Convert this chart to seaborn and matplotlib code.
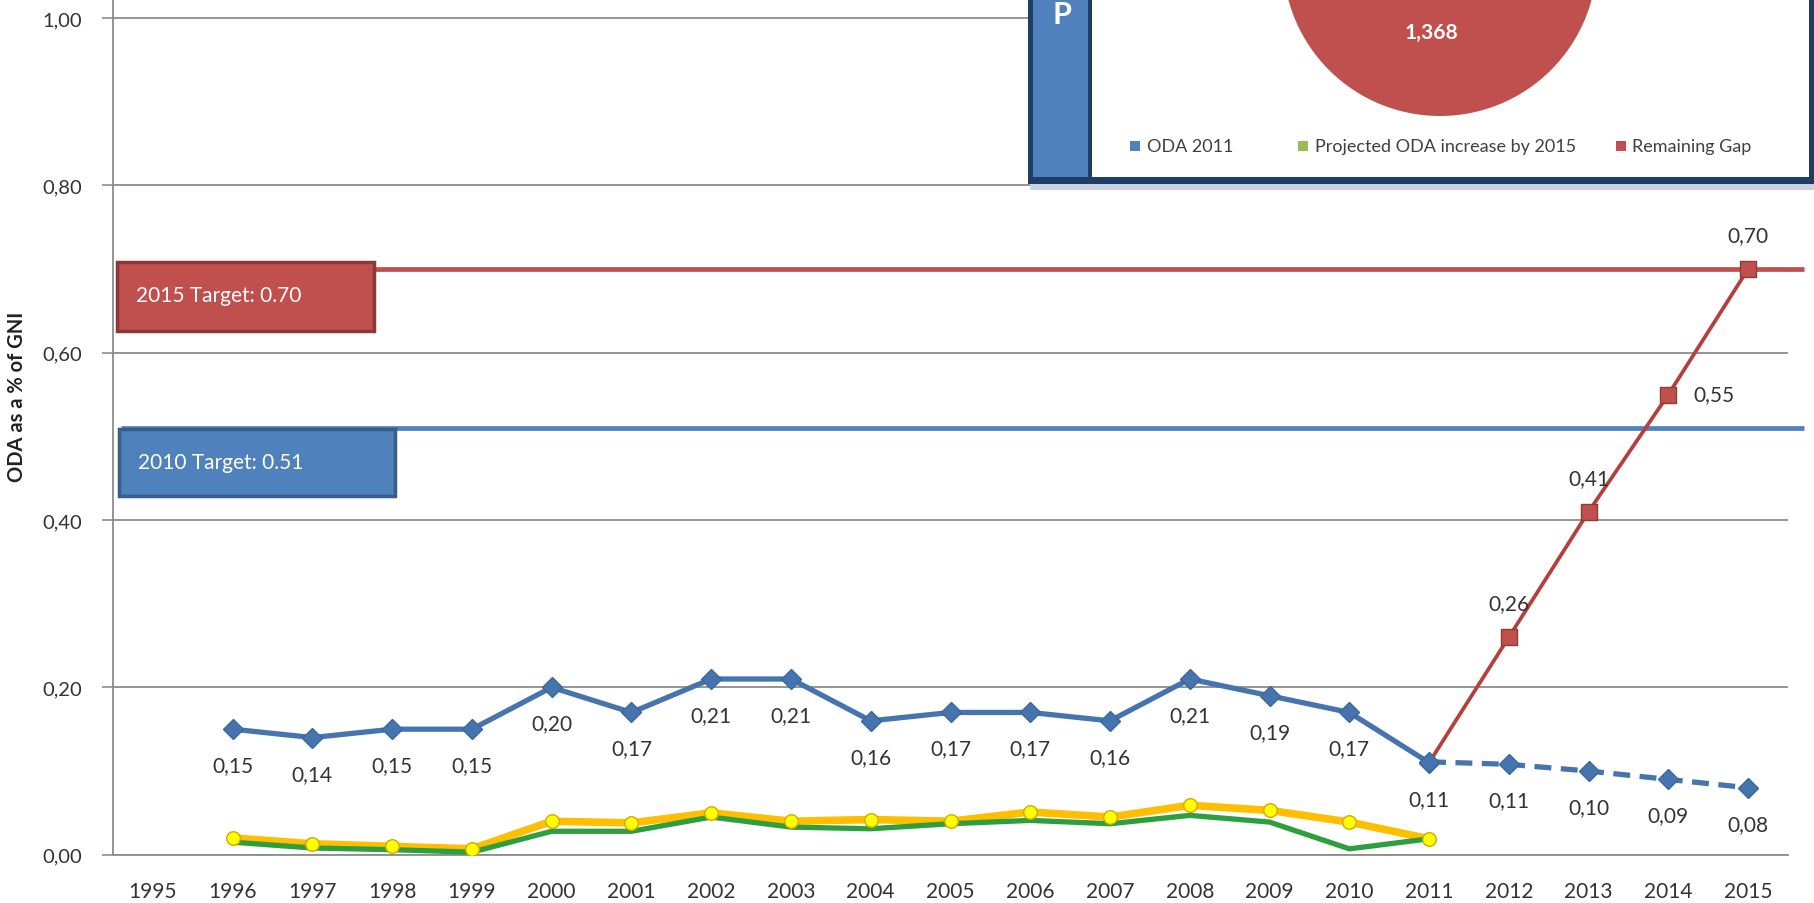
import pandas as pd
import matplotlib
matplotlib.use('Agg')
import matplotlib.pyplot as plt
from matplotlib.patches import Rectangle
from matplotlib.ticker import FixedLocator, FuncFormatter
import seaborn as sns

# Dados
anos = list(range(1995, 2016))
anos_oda = list(range(1996, 2012))
oda_real = [0.15, 0.14, 0.15, 0.15, 0.20, 0.17, 0.21, 0.21, 0.16, 0.17, 0.17, 0.16, 0.21, 0.19, 0.17, 0.11]
serie_amarela = [0.020, 0.013, 0.010, 0.007, 0.040, 0.038, 0.050, 0.040, 0.042, 0.040, 0.051, 0.045, 0.059, 0.053, 0.039, 0.019]
serie_verde = [0.015, 0.008, 0.006, 0.003, 0.028, 0.028, 0.045, 0.033, 0.031, 0.037, 0.041, 0.037, 0.047, 0.039, 0.007, 0.019]
anos_proj = list(range(2011, 2016))
oda_projetada = [0.111, 0.108, 0.100, 0.090, 0.080]
rumo_meta = [0.11, 0.26, 0.41, 0.55, 0.70]
metas = [0.70, 0.51]
metas_txt = ['2015 Target: 0.70', '2010 Target: 0.51']
pizza_valor = [1368]
pizza_txt = '1,368'
legenda_txt = ['ODA 2011', 'Projected ODA increase by 2015', 'Remaining Gap']

AZUL = '#4674AE'
VERMELHO = '#C0504D'
CINZA = '#8C8C8C'
TEXTO = '#333333'

sns.set_style('white')
plt.rcParams['font.family'] = ['Lato', 'DejaVu Sans']

df_real = pd.DataFrame({'ano': anos_oda, 'oda': oda_real, 'amarela': serie_amarela, 'verde': serie_verde})
df_proj = pd.DataFrame({'ano': anos_proj, 'oda': oda_projetada, 'meta': rumo_meta})

fig = plt.figure(figsize=(18.14, 9.04), dpi=100)
W, H = 1814, 904
y0 = 855.7
ax = fig.add_axes([113 / W, 1 - y0 / H, 1675 / W, y0 / H])

# linhas de meta (atras dos dados)
for valor, cor in zip(metas, [VERMELHO, '#4F81BD']):
    ax.plot([1994.6, 2015.7], [valor, valor], color=cor, lw=3.4, zorder=2, clip_on=False,
            solid_capstyle='butt')

# series amarela e verde
sns.lineplot(data=df_real, x='ano', y='amarela', ax=ax, color='#FFBE00', lw=5.5, zorder=3)
sns.lineplot(data=df_real, x='ano', y='verde', ax=ax, color='#2E9E3E', lw=3.8, zorder=4)
ax.scatter(df_real['ano'], df_real['amarela'], s=95, color='#FFFF00', edgecolor='#D4A800',
           linewidth=1, zorder=5)

# caminho ate a meta
sns.lineplot(data=df_proj, x='ano', y='meta', ax=ax, color='#B4403C', lw=2.7, zorder=5)
ax.scatter(df_proj['ano'][1:], df_proj['meta'][1:], marker='s', s=140, color=VERMELHO,
           edgecolor='#8E3A38', linewidth=1, zorder=6)

# ODA real e projetada
sns.lineplot(data=df_real, x='ano', y='oda', ax=ax, color=AZUL, lw=3.8, marker='D',
             markersize=10.5, markeredgecolor='#3A679C', markeredgewidth=1, zorder=7)
sns.lineplot(data=df_proj, x='ano', y='oda', ax=ax, color=AZUL, lw=3.8, marker='D',
             markersize=10.5, markeredgecolor='#3A679C', markeredgewidth=1, zorder=7,
             linestyle=(0, (3.2, 1.8)))

# rotulos
def fmt(v):
    return f'{v:.2f}'.replace('.', ',')

for x, v in zip(anos_oda + anos_proj[1:], oda_real + oda_projetada[1:]):
    ax.annotate(fmt(v), (x, v), xytext=(0, -26), textcoords='offset points',
                ha='center', va='center', fontsize=15, color=TEXTO, zorder=9)
for x, v in zip(anos_proj[1:], rumo_meta[1:]):
    if x == 2014:
        off = (33, 0)
    else:
        off = (0, 24.5)
    ax.annotate(fmt(v), (x, v), xytext=off, textcoords='offset points',
                ha='center', va='center', fontsize=15, color=TEXTO, zorder=9)

# caixas das metas
caixas = [((1994.55, 0.626), 3.22, 0.082, VERMELHO, '#8C3836', (1994.79, 0.669)),
          ((1994.575, 0.429), 3.46, 0.080, '#4F81BD', '#385D8A', (1994.81, 0.469))]
for (xy, w, h, cor, borda, pos), txt in zip(caixas, metas_txt):
    ax.add_patch(Rectangle(xy, w, h, facecolor=cor, edgecolor=borda, lw=2.5, zorder=8,
                           clip_on=False))
    ax.text(pos[0], pos[1], txt, color='white', fontsize=15, ha='left', va='center', zorder=9)

# eixos
ax.set_xlim(1994.5, 2015.5)
ax.set_ylim(0, y0 / 836.7)
ax.set_xticks(anos)
ax.set_xticklabels([str(a) for a in anos])
ax.xaxis.set_minor_locator(FixedLocator([a - 0.5 for a in anos] + [2015.5]))
ax.tick_params(axis='x', which='major', length=0, pad=19, labelsize=15, labelcolor=TEXTO)
ax.tick_params(axis='x', which='minor', length=7, width=1.2, color=CINZA, direction='out')
ax.set_yticks([0, 0.2, 0.4, 0.6, 0.8, 1.0])
ax.yaxis.set_major_formatter(FuncFormatter(lambda v, p: fmt(v)))
ax.tick_params(axis='y', length=8, width=1.2, color=CINZA, direction='out', pad=14,
               labelsize=14.5, labelcolor=TEXTO, left=True)
ax.grid(axis='y', color=CINZA, lw=1.3)
ax.set_axisbelow(True)
for lado in ['top', 'right']:
    ax.spines[lado].set_visible(False)
for lado in ['left', 'bottom']:
    ax.spines[lado].set_color(CINZA)
    ax.spines[lado].set_linewidth(1.3)
ax.set_xlabel('')
ax.set_ylabel('ODA as a % of GNI', fontsize=14.5, fontweight='bold', color='#222222')
ax.yaxis.set_label_coords(-0.0513, 0.536)

# quadro do grafico de pizza (canto superior direito)
ov = fig.add_axes([0, 0, 1, 1])
ov.set_xlim(0, W)
ov.set_ylim(H, 0)
ov.axis('off')
ov.patch.set_visible(False)
ov.add_patch(Rectangle((1030, 185), 784, 6, facecolor='#C9D3E3', edgecolor='none'))
ov.add_patch(Rectangle((1028, -20), 786, 205, facecolor='#1F3E66', edgecolor='none'))
ov.add_patch(Rectangle((1033, -20), 55, 198, facecolor='#4F81BD', edgecolor='none'))
ov.add_patch(Rectangle((1092, -20), 717, 198, facecolor='white', edgecolor='none'))
ov.text(1062, 24, 'P', color='white', fontsize=22, fontweight='bold', ha='center', va='baseline')

cores_leg = ['#4F81BD', '#9BBB59', VERMELHO]
for xq, xt, cor, txt in zip([1135, 1303, 1621], [1147, 1315, 1632], cores_leg, legenda_txt):
    ov.add_patch(Rectangle((xq - 5, 142), 10, 10, facecolor=cor, edgecolor='none'))
    ov.text(xt, 147, txt, fontsize=13, color='#404040', ha='left', va='center')

pa = fig.add_axes([1283 / W, 1 - 117 / H, 314 / W, 314 / H])
pa.pie(pizza_valor, colors=[VERMELHO], startangle=90, wedgeprops=dict(linewidth=0))
pa.set_xlim(-1, 1)
pa.set_ylim(-1, 1)
pa.set_aspect('equal')
pa.text(1431, 33, pizza_txt, transform=ov.transData, color='white', fontsize=15,
        fontweight='bold', ha='center', va='center')

fig.savefig('out.png', dpi=100)
